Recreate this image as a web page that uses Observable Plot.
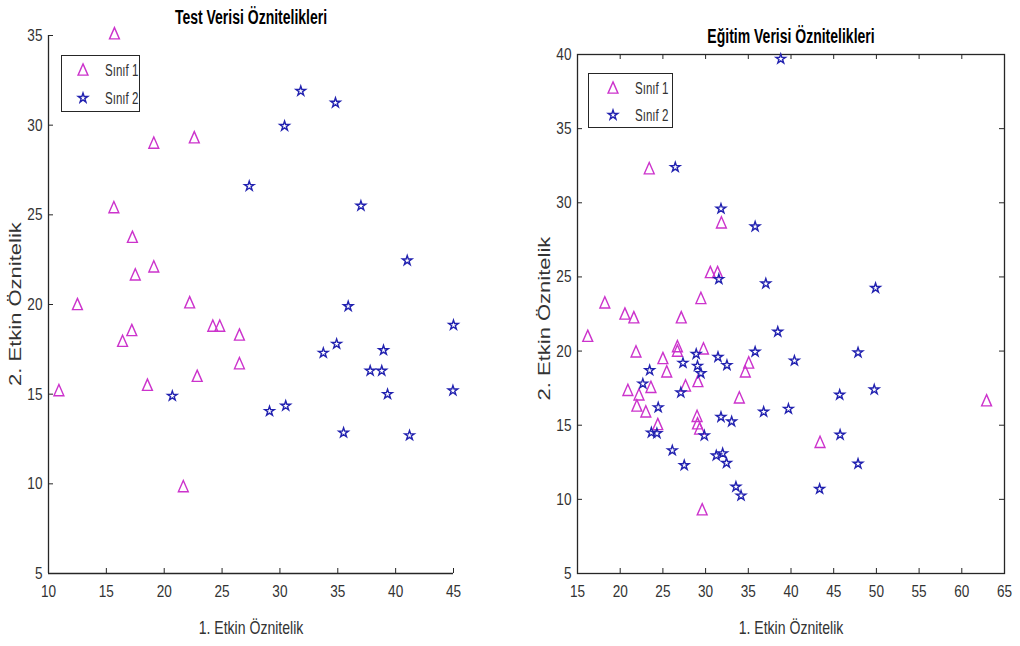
<!DOCTYPE html>
<html><head><meta charset="utf-8">
<script src="https://cdn.jsdelivr.net/npm/d3@7"></script>
<script src="https://cdn.jsdelivr.net/npm/@observablehq/plot@0.6"></script>
<style>
body{margin:0;background:#fff;width:1020px;height:646px;position:relative;overflow:hidden;font-family:"Liberation Sans",Arial,sans-serif}
.panel{position:absolute;top:0}
.legend{position:absolute;box-sizing:border-box;border:1.4px solid #262626;background:#fff}
.legend svg{position:absolute;left:0;top:0;overflow:visible}
</style>
</head><body>
<div id="left" class="panel" style="left:0"></div>
<div id="right" class="panel" style="left:510px"></div>
<script>
// ---- data ----
const classNames = ["Sınıf 1", "Sınıf 2"];
const titles = ["Test Verisi Öznitelikleri", "Eğitim Verisi Öznitelikleri"];
const xLabel = "1. Etkin Öznitelik";
const yLabel = "2. Etkin Öznitelik";

const testXTicks = [10, 15, 20, 25, 30, 35, 40, 45];
const testYTicks = [5, 10, 15, 20, 25, 30, 35];
const trainXTicks = [15, 20, 25, 30, 35, 40, 45, 50, 55, 60, 65];
const trainYTicks = [5, 10, 15, 20, 25, 30, 35, 40];

const testClass1 = [
  [15.7, 35.1], [19.1, 29.0], [22.6, 29.3], [15.65, 25.4], [17.25, 23.75],
  [19.1, 22.1], [17.5, 21.65], [12.5, 20.0], [22.2, 20.1], [16.4, 17.95],
  [17.2, 18.55], [10.9, 15.2], [18.55, 15.5], [22.85, 16.0], [24.2, 18.8],
  [24.8, 18.8], [26.5, 18.3], [26.5, 16.7], [21.65, 9.85]
];
const testClass2 = [
  [20.7, 14.9], [27.35, 26.6], [29.1, 14.05], [30.5, 14.35], [30.4, 29.95],
  [31.8, 31.9], [33.75, 17.3], [34.9, 17.8], [34.8, 31.25], [35.5, 12.85],
  [35.9, 19.9], [37.0, 25.5], [37.8, 16.3], [38.8, 16.3], [38.95, 17.45],
  [39.3, 15.0], [41.0, 22.45], [41.2, 12.7], [45.0, 18.85], [44.95, 15.2]
];
const trainClass1 = [
  [23.4, 32.3], [31.85, 28.65], [30.55, 25.3], [31.4, 25.3], [18.2, 23.25],
  [29.45, 23.55], [20.55, 22.5], [21.6, 22.25], [27.15, 22.25], [16.2, 21.0],
  [21.85, 19.95], [25.0, 19.5], [26.7, 20.3], [26.7, 20.0], [29.75, 20.15],
  [35.05, 19.2], [34.65, 18.6], [25.45, 18.6], [23.6, 17.55], [20.9, 17.35],
  [22.2, 17.05], [27.65, 17.65], [29.1, 17.95], [21.95, 16.3], [23.0, 15.9],
  [33.95, 16.85], [29.0, 15.6], [29.05, 15.1], [29.3, 14.75], [24.4, 15.05],
  [29.6, 9.3], [43.4, 13.85], [62.9, 16.65]
];
const trainClass2 = [
  [38.8, 39.7], [26.45, 32.4], [31.8, 29.6], [35.8, 28.4], [31.55, 24.85],
  [37.05, 24.55], [49.9, 24.25], [38.45, 21.3], [40.4, 19.35], [47.85, 19.9],
  [49.75, 17.4], [45.7, 17.05], [39.7, 16.1], [45.75, 14.35], [47.85, 12.4],
  [43.35, 10.7], [28.9, 19.8], [27.35, 19.2], [29.05, 19.0], [29.45, 18.5],
  [31.45, 19.6], [32.5, 19.05], [35.8, 19.95], [23.45, 18.7], [22.65, 17.8],
  [27.1, 17.2], [24.45, 16.2], [36.8, 15.9], [31.8, 15.55], [33.05, 15.25],
  [29.85, 14.3], [23.65, 14.5], [24.3, 14.45], [26.1, 13.3], [27.5, 12.3],
  [31.25, 12.95], [32.0, 13.1], [32.45, 12.45], [33.55, 10.85], [34.15, 10.25]
];

// ---- style ----
const c1Color = "#cc33cc";
const c2Color = "#2222b0";
const axisColor = "#262626";
const textColor = "#333333";
const triR = 4.3, starR = 3.0, symStroke = 1.4;
const fontFamily = '"Liberation Sans",Arial,sans-serif';

// MATLAB-like '^' marker: slightly taller than wide
const tallTriangle = {
  draw(context, size) {
    const r = Math.sqrt(size / Math.PI);
    const hw = r * 1.15, top = -r * 1.42, bottom = r * 1.2;
    context.moveTo(0, top);
    context.lineTo(hw, bottom);
    context.lineTo(-hw, bottom);
    context.closePath();
  }
};

function center(el) {
  const b = el.getBoundingClientRect();
  return [b.left + b.width / 2, b.top + b.height / 2];
}

// condense text horizontally (the reference image is horizontally squeezed)
function condense(root, factors) {
  root.querySelectorAll("text").forEach(t => {
    const fs = +(t.getAttribute("font-size") || t.closest("[font-size]")?.getAttribute("font-size") || 16);
    if (fs === 22) { // rotated y label: squeeze its glyph height (screen horizontal), keep its centre
      const [x0, y0] = center(t);
      const tr = t.getAttribute("transform") || "";
      t.setAttribute("transform", (tr + " scale(1,0.78)").trim());
      const [x1, y1] = center(t);
      t.setAttribute("transform", `translate(${(x0 - x1).toFixed(2)},${(y0 - y1).toFixed(2)}) ` + t.getAttribute("transform"));
      return;
    }
    const f = factors[fs] || 0.8;
    const len = t.getComputedTextLength();
    if (len > 0) {
      t.setAttribute("textLength", (len * f).toFixed(2));
      t.setAttribute("lengthAdjust", "spacingAndGlyphs");
    }
  });
}
const condenseFactors = {17: 0.8, 19: 0.74, 20: 0.7, 16: 0.72};

function panel(el, {title, c1, c2, xTicks, yTicks, boxed, width, height, margin, legend, yLabelDy}) {
  const fw = width - margin.left - margin.right;
  const fh = height - margin.top - margin.bottom;
  const xDomain = [xTicks[0], xTicks[xTicks.length - 1]];
  const yDomain = [yTicks[0], yTicks[yTicks.length - 1]];
  const marks = [];
  if (boxed) {
    marks.push(Plot.frame({stroke: axisColor, strokeWidth: 1.3}));
    marks.push(Plot.tickX(xTicks, {x: d => d, insetBottom: fh - 5, stroke: axisColor}));
    marks.push(Plot.tickY(yTicks, {y: d => d, insetLeft: fw - 5, stroke: axisColor}));
  } else {
    marks.push(Plot.ruleX([xDomain[0]], {stroke: axisColor, strokeWidth: 1.3}));
    marks.push(Plot.ruleY([yDomain[0]], {stroke: axisColor, strokeWidth: 1.3}));
  }
  marks.push(Plot.tickX(xTicks, {x: d => d, insetTop: fh - 5, stroke: axisColor}));
  marks.push(Plot.tickY(yTicks, {y: d => d, insetRight: fw - 5, stroke: axisColor}));
  marks.push(Plot.axisX(xTicks, {anchor: "bottom", tickSize: 0, tickPadding: 11, label: null, fill: textColor, fontSize: 17}));
  marks.push(Plot.axisY(yTicks, {anchor: "left", tickSize: 0, tickPadding: 6, label: null, fill: textColor, fontSize: 17}));
  marks.push(Plot.dot(c1, {x: d => d[0], y: d => d[1], symbol: tallTriangle, r: triR, stroke: c1Color, fill: "none", strokeWidth: symStroke}));
  marks.push(Plot.dot(c2, {x: d => d[0], y: d => d[1], symbol: "star", r: starR, stroke: c2Color, fill: "none", strokeWidth: symStroke}));
  marks.push(Plot.text([title], {text: d => d, frameAnchor: "top", lineAnchor: "middle", dy: -18, fontWeight: "bold", fontSize: 20, fill: "#000"}));
  marks.push(Plot.text([xLabel], {text: d => d, frameAnchor: "bottom", lineAnchor: "middle", dy: 54, fontSize: 19, fill: textColor}));
  marks.push(Plot.text([yLabel], {text: d => d, frameAnchor: "left", textAnchor: "middle", lineAnchor: "middle", dx: -33, dy: yLabelDy, rotate: -90, fontSize: 22, fill: textColor}));

  const chart = Plot.plot({
    width, height,
    marginLeft: margin.left, marginRight: margin.right, marginTop: margin.top, marginBottom: margin.bottom,
    x: {domain: xDomain, axis: null},
    y: {domain: yDomain, axis: null},
    style: {background: "#fff", fontFamily, fontSize: "16px", overflow: "visible"},
    marks
  });
  el.appendChild(chart);
  condense(chart, condenseFactors);

  // legend box (HTML overlay)
  const lg = document.createElement("div");
  lg.className = "legend";
  Object.assign(lg.style, {left: legend.left + "px", top: legend.top + "px", width: legend.w + "px", height: legend.h + "px"});
  const ns = "http://www.w3.org/2000/svg";
  const svg = document.createElementNS(ns, "svg");
  svg.setAttribute("width", legend.w); svg.setAttribute("height", legend.h);
  const items = [
    {sym: tallTriangle, r: triR, color: c1Color, label: classNames[0]},
    {sym: d3.symbolStar, r: starR, color: c2Color, label: classNames[1]}
  ];
  items.forEach((it, i) => {
    const cy = legend.rowY[i];
    const p = document.createElementNS(ns, "path");
    p.setAttribute("d", d3.symbol(it.sym, it.r * it.r * Math.PI)());
    p.setAttribute("transform", `translate(${legend.symX},${cy})`);
    p.setAttribute("fill", "none"); p.setAttribute("stroke", it.color); p.setAttribute("stroke-width", symStroke);
    svg.appendChild(p);
    const t = document.createElementNS(ns, "text");
    t.setAttribute("x", legend.textX); t.setAttribute("y", cy);
    t.setAttribute("dy", "0.35em");
    t.setAttribute("font-size", 16); t.setAttribute("font-family", fontFamily); t.setAttribute("fill", textColor);
    t.textContent = it.label;
    svg.appendChild(t);
  });
  lg.appendChild(svg);
  el.appendChild(lg);
  condense(svg, condenseFactors);
}

panel(document.getElementById("left"), {
  title: titles[0], c1: testClass1, c2: testClass2, xTicks: testXTicks, yTicks: testYTicks,
  boxed: false, width: 510, height: 646, margin: {left: 48, right: 57, top: 35, bottom: 73},
  legend: {left: 61, top: 55, w: 79, h: 57, symX: 21, textX: 43, rowY: [14, 42]}, yLabelDy: 0
});
panel(document.getElementById("right"), {
  title: titles[1], c1: trainClass1, c2: trainClass2, xTicks: trainXTicks, yTicks: trainYTicks,
  boxed: true, width: 510, height: 646, margin: {left: 67, right: 16, top: 54, bottom: 73},
  legend: {left: 78, top: 73, w: 85, h: 55, symX: 24, textX: 46, rowY: [14, 41]}, yLabelDy: 5
});
</script>
</body></html>
